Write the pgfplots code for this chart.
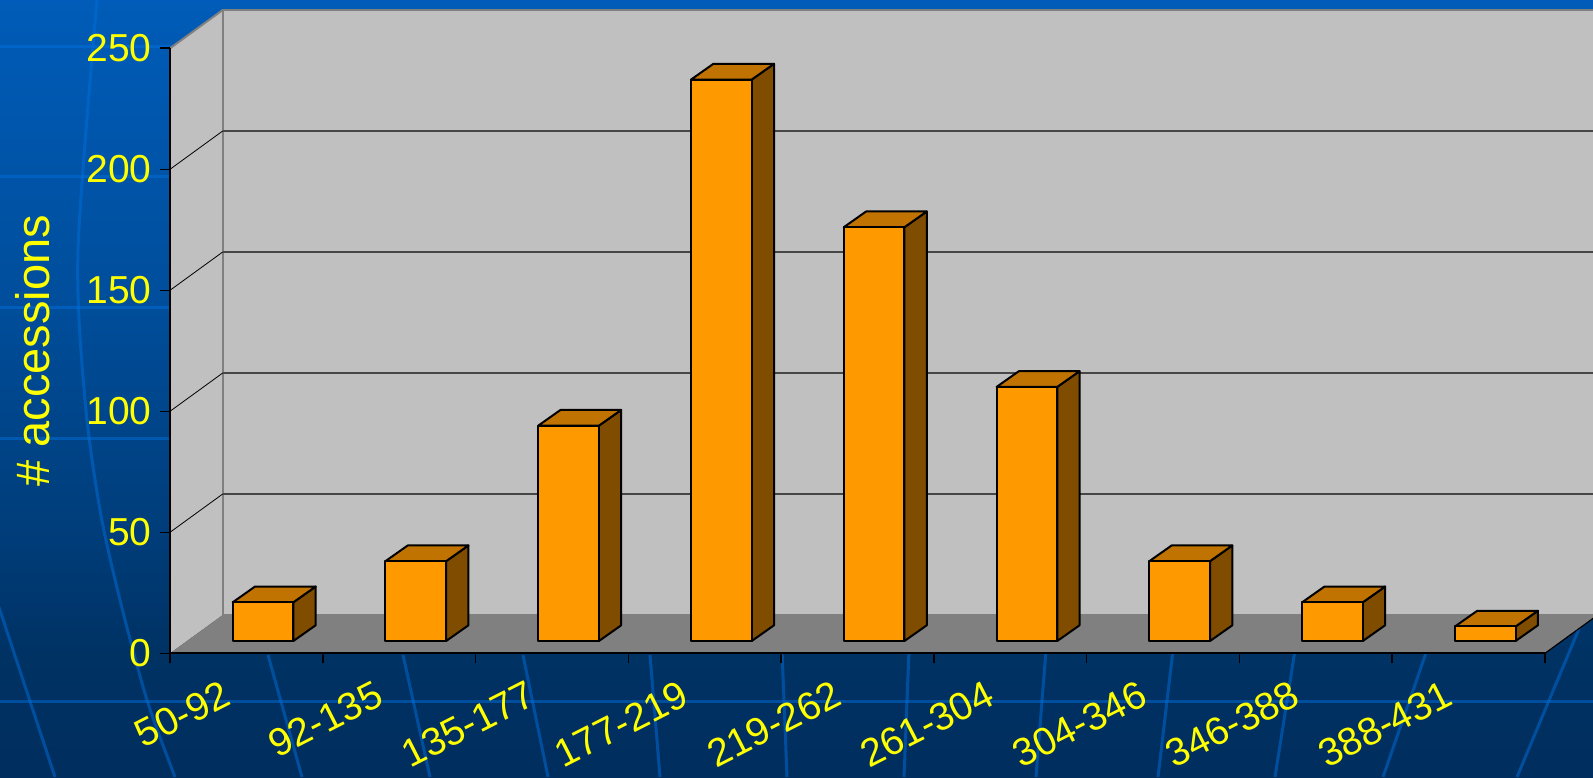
\documentclass[border=0pt]{standalone}
\usepackage{pgfplots}
\pgfplotsset{compat=1.18}
\usepackage{fontspec}
\setmainfont{Liberation Sans}

\definecolor{barfront}{RGB}{255,153,0}
\definecolor{bartop}{RGB}{192,115,0}
\definecolor{barside}{RGB}{127,76,0}
\definecolor{wall}{RGB}{192,192,192}
\definecolor{wallborder}{RGB}{128,128,128}
\definecolor{floorc}{RGB}{128,128,128}
\definecolor{gridc}{RGB}{70,70,70}
\definecolor{lab}{RGB}{255,255,0}
\definecolor{globe}{RGB}{0,110,220}
\definecolor{bgbot}{RGB}{0,46,94}
\definecolor{bgca}{RGB}{0,50,100}
\definecolor{bgcb}{RGB}{0,60,120}
\definecolor{bgcc}{RGB}{0,78,156}
\definecolor{bgtop}{RGB}{0,92,184}
\pgfdeclareverticalshading{bgshade}{100bp}{color(0bp)=(bgbot); color(25bp)=(bgbot); color(33bp)=(bgca); color(40bp)=(bgcb); color(56bp)=(bgcc); color(75bp)=(bgtop); color(100bp)=(bgtop)}

% 3-D bar: #1 = category index, #2 = value
\newcommand\tdbar[2]{%
  \pgfmathsetmacro\xl{#1+0.109-0.1985}%
  \pgfmathsetmacro\xr{#1+0.109+0.1985}%
  \pgfmathsetmacro\yt{5.08+#2}%
  \pgfmathsetmacro\xlb{\xl+0.146}%
  \pgfmathsetmacro\xrb{\xr+0.146}%
  \pgfmathsetmacro\ybb{5.08+6.5}%
  \pgfmathsetmacro\ytb{\yt+6.5}%
  \edef\tdbarcmd{%
    \noexpand\addplot[draw=black,line width=1pt,fill=barside,line join=round] coordinates {(\xr,5.08) (\xrb,\ybb) (\xrb,\ytb) (\xr,\yt)} --cycle;
    \noexpand\addplot[draw=black,line width=1pt,fill=bartop,line join=round] coordinates {(\xl,\yt) (\xr,\yt) (\xrb,\ytb) (\xlb,\ytb)} --cycle;
    \noexpand\addplot[draw=black,line width=1pt,fill=barfront,line join=round] coordinates {(\xl,5.08) (\xr,5.08) (\xr,\yt) (\xl,\yt)} --cycle;
  }%
  \tdbarcmd
}

\begin{document}
\begin{tikzpicture}
\path[use as bounding box] (0,0) rectangle (796.5pt,388.5pt);
\clip (0,0) rectangle (796.5pt,388.5pt);
\shade[shading=bgshade] (0,0) rectangle (796.5pt,388.5pt);
\begin{scope}[x=0.5pt,y=-0.5pt,yshift=388.5pt,draw=globe,draw opacity=0.5,line width=1.5pt]
  \foreach \yy in {47,177,308,438,701} {\draw (0,\yy) -- (1593,\yy);}
  \draw (-43,480) -- (55,777);
  \draw plot[smooth] coordinates {(97,0) (78,250) (85,400) (100,510) (120,600) (147,700) (175,777)};
  \draw (268,655) -- (302,777);
  \draw (403,655) -- (430,777);
  \draw (523,655) -- (548,777);
  \draw (650,655) -- (660,777);
  \draw (782,650) -- (787,777);
  \draw (909,650) -- (904,777);
  \draw (1046,650) -- (1036,777);
  \draw (1173,650) -- (1158,777);
  \draw (1295,650) -- (1275,777);
  \draw (1427,650) -- (1383,777);
  \draw (1591,600) -- (1517,777);
\end{scope}
\begin{axis}[
  at={(85pt,61.85pt)}, anchor=south west,
  scale only axis, width=687.5pt, height=302.5pt,
  xmin=-0.5, xmax=8.5, ymin=0, ymax=250,
  clip=false, axis on top,
  axis lines*=left,
  axis line style={black, line width=1pt},
  xtick={0,...,8},
  xticklabels={50-92,92-135,135-177,177-219,219-262,261-304,304-346,346-388,388-431},
  minor xtick={-0.5,0.5,...,8.5},
  major x tick style={draw=none},
  ytick={0,50,...,250},
  tick align=outside,
  major tick length=5pt, minor tick length=5pt,
  tick style={black, line width=0.8pt},
  /pgf/number format/assume math mode=true,
  ticklabel style={font=\fontsize{19.5}{23}\selectfont, text=lab},
  xticklabel style={rotate=27, anchor=north east, inner sep=0pt, xshift=-15pt, yshift=-1pt},
  yticklabel style={anchor=east, inner sep=0pt, xshift=-4pt},
  ylabel={\# accessions},
  ylabel style={at={(axis description cs:-0.1,0.5)}, anchor=center, font=\fontsize{23.5}{28}\selectfont, text=lab},
]
% left side wall
\addplot[fill=wall, draw=none] coordinates {(-0.5,0) (-0.5,250) (-0.155,265.83) (-0.155,15.83)} --cycle;
% back wall
\addplot[fill=wall, draw=wallborder, line width=1pt] coordinates {(-0.155,15.83) (8.845,15.83) (8.845,265.83) (-0.155,265.83)} --cycle;
\addplot[draw=wallborder, line width=1pt] coordinates {(-0.5,250) (-0.155,265.83)};
% gridlines on back wall
\addplot[draw=gridc, line width=0.7pt] coordinates {(-0.155,65.83) (8.845,65.83)};
\addplot[draw=gridc, line width=0.7pt] coordinates {(-0.155,115.83) (8.845,115.83)};
\addplot[draw=gridc, line width=0.7pt] coordinates {(-0.155,165.83) (8.845,165.83)};
\addplot[draw=gridc, line width=0.7pt] coordinates {(-0.155,215.83) (8.845,215.83)};
% gridlines on side wall
\addplot[draw=black, line width=0.4pt] coordinates {(-0.5,50) (-0.155,65.83)};
\addplot[draw=black, line width=0.4pt] coordinates {(-0.5,100) (-0.155,115.83)};
\addplot[draw=black, line width=0.4pt] coordinates {(-0.5,150) (-0.155,165.83)};
\addplot[draw=black, line width=0.4pt] coordinates {(-0.5,200) (-0.155,215.83)};
% floor
\addplot[fill=floorc, draw=none] coordinates {(-0.5,0) (8.5,0) (8.845,15.83) (-0.155,15.83)} --cycle;
\addplot[draw=black, line width=0.6pt] coordinates {(8.5,0) (8.845,15.83)};
% bars
\tdbar{0}{16}
\tdbar{1}{33}
\tdbar{2}{89}
\tdbar{3}{232}
\tdbar{4}{171}
\tdbar{5}{105}
\tdbar{6}{33}
\tdbar{7}{16}
\tdbar{8}{6}
\end{axis}
\end{tikzpicture}
\end{document}
